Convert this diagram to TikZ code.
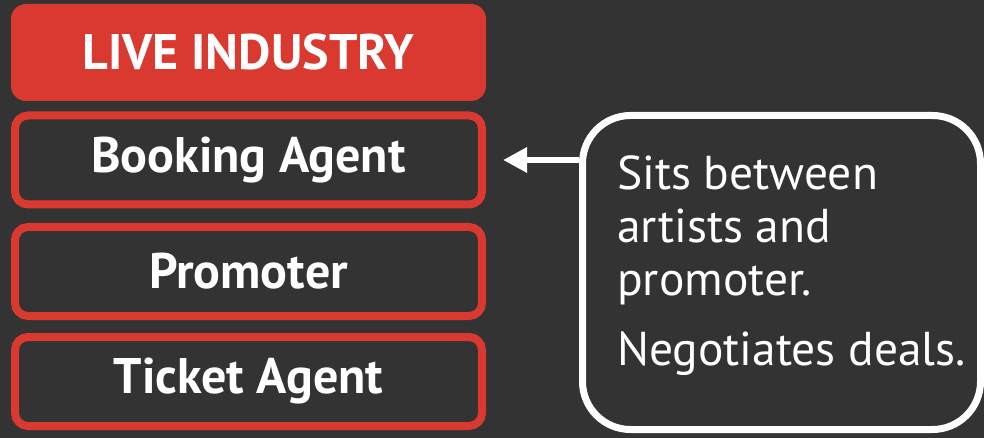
\documentclass[tikz,border=0pt]{standalone}
\usepackage{fontspec}
\setmainfont{PT Sans}
\usepackage{xcolor}
\usetikzlibrary{shapes,arrows.meta,positioning}

\definecolor{slate}{RGB}{51,51,51}
\definecolor{livered}{RGB}{217,57,46}

\begin{document}
\begin{tikzpicture}[
        x=1pt, y=-1pt,
        every node/.style={text=white, inner sep=0pt},
        headbox/.style={fill=livered, rounded corners=15pt, minimum width=475pt, minimum height=97pt,
            font=\bfseries\fontsize{50}{60}\selectfont},
        rolebox/.style={draw=livered, line width=8pt, rounded corners=13pt, minimum width=467pt, minimum height=89pt,
            font=\bfseries\fontsize{50}{60}\selectfont},
        callbox/.style={draw=white, line width=7pt, rounded corners=48pt, minimum width=398pt, minimum height=314pt},
        notetext/.style={align=left, font=\fontsize{47.5}{53}\selectfont},
        pointer/.style={draw=white, line width=6pt, -{Triangle[length=24pt, width=24pt]}}]

    % background and page size
    \fill[slate] (0,0) rectangle (984,438);

    % left column
    \node[headbox] (live) at (248.5,52.5) {LIVE INDUSTRY};
    \node[rolebox] (booking) at (248.5,160) {Booking Agent};
    \node[rolebox] (promoter) at (248.5,271.5) {Promoter};
    \node[rolebox] (ticket) at (248.5,381.5) {Ticket Agent};

    % callout on the right
    \node[callbox] (callout) at (781.5,272.5) {};
    \node[notetext, anchor=north west] (note) at (617,155) {Sits between\\artists and\\promoter.\\[17pt]Negotiates deals.};

    \draw[pointer] (callout.west |- booking.east) -- ([xshift=17pt]booking.east);
\end{tikzpicture}
\end{document}
